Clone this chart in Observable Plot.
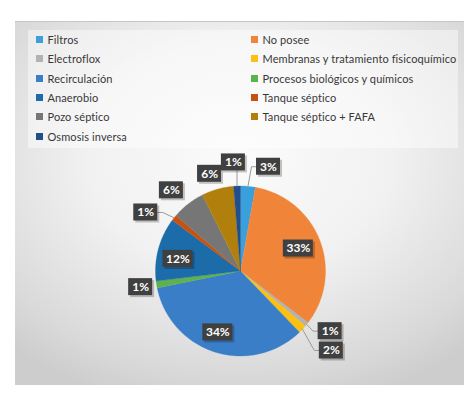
<!DOCTYPE html>
<html>
<head>
<meta charset="utf-8">
<script src="https://cdn.jsdelivr.net/npm/d3@7"></script>
<script src="https://cdn.jsdelivr.net/npm/@observablehq/plot@0.6"></script>
<style>
  html, body { margin: 0; padding: 0; background: #ffffff; }
  #wrap { position: relative; width: 476px; height: 396px; overflow: hidden; font-family: Lato, "Open Sans", sans-serif; }
  #frame { position: absolute; left: 15px; top: 21px; width: 449px; height: 363px;
    background: radial-gradient(ellipse 75% 70% at 50% 38%, #fbfbfb 0%, #f1f1f1 45%, #d9d9d9 85%, #cdcdcd 100%);
    border-top: 1px solid #c6c6c6; }
  #legbox { position: absolute; left: 28px; top: 30px; width: 430px; height: 118px; background: rgba(255,255,255,0.45); }
  #legend { position: absolute; left: 35.5px; top: 29.6px; display: grid; grid-template-columns: 215px 210px; grid-auto-rows: 19.4px; font-size: 11px; letter-spacing: 0.1px; color: #383838; }
  #legend .item { display: flex; align-items: center; white-space: nowrap; }
  #legend .sw { width: 7px; height: 7px; margin-right: 5px; flex: none; }
  #chart { position: absolute; left: 0; top: 0; }
</style>
</head>
<body>
<div id="wrap">
  <div id="frame"></div>
  <div id="legbox"></div>
  <div id="legend"></div>
  <div id="chart"></div>
</div>
<script>
// ---- data ----
const categories = ["Filtros", "No posee", "Electroflox", "Membranas y tratamiento fisicoquímico", "Recirculación", "Procesos biológicos y químicos", "Anaerobio", "Tanque séptico", "Pozo séptico", "Tanque séptico + FAFA", "Osmosis inversa"];
const values = [2.8, 32.6, 0.8, 1.6, 34.0, 1.3, 12.1, 1.1, 6.3, 6.1, 1.3];
const colors = ["#3a9fdd", "#f08539", "#b2b2b2", "#fdc010", "#3a7ec7", "#5eb14f", "#1b6ca8", "#c5530f", "#767676", "#b07f0c", "#204f8c"];

// ---- layout (label placement: radius factor, angle nudge in degrees, leader line) ----
const labelRadius = [1.27, 0.73, 1.27, 1.42, 0.77, 1.19, 0.75, 1.31, 1.25, 1.2, 1.28];
const labelNudge  = [10, 0, -5, -2, 3, 0, -4, -7, -2.6, -2, -1.4];
const labelLeader = [true, false, true, true, false, false, false, true, false, false, true];

const CX = 240, CY = 270.5, R = 85; // pie centre and radius in px
const U = 1 / R; // one pixel in pie units

// legend (HTML, over the frame background)
const leg = document.getElementById("legend");
categories.forEach((c, i) => {
  const d = document.createElement("div");
  d.className = "item";
  d.innerHTML = `<span class="sw" style="background:${colors[i]}"></span><span>${c}</span>`;
  leg.appendChild(d);
});

// pie geometry
const total = d3.sum(values);
const deg = values.map(v => v / total * 360);
const starts = d3.cumsum([0, ...deg]).slice(0, values.length);
const slicePts = [];
categories.forEach((c, i) => {
  const a0 = starts[i], a1 = a0 + deg[i];
  slicePts.push({cat: c, x: 0, y: 0});
  const n = Math.max(2, Math.ceil(deg[i]));
  for (let k = 0; k <= n; k++) {
    const a = (a0 + (a1 - a0) * k / n) * Math.PI / 180;
    slicePts.push({cat: c, x: Math.sin(a), y: Math.cos(a)});
  }
  slicePts.push({cat: c, x: 0, y: 0});
});

const fmt = v => Math.round(v / total * 100) + "%";
const labels = categories.map((c, i) => {
  const mid = starts[i] + deg[i] / 2;
  const a = (mid + labelNudge[i]) * Math.PI / 180;
  const text = fmt(values[i]);
  const hw = (text.length === 2 ? 12 : 15) * U, hh = 8.5 * U;
  const lx = labelRadius[i] * Math.sin(a), ly = labelRadius[i] * Math.cos(a);
  const ma = mid * Math.PI / 180;
  return {cat: c, text, x: lx, y: ly, hw, hh, rim: [Math.sin(ma), Math.cos(ma)], leader: labelLeader[i]};
});

const leaders = [];
labels.forEach(l => {
  if (!l.leader) return;
  const [rx, ry] = l.rim;
  let pts;
  if (Math.abs(rx - l.x) <= l.hw) {
    pts = [[rx, ry], [rx, ry < l.y ? l.y - l.hh : l.y + l.hh]];
  } else if (rx < l.x - l.hw) {
    pts = [[rx, ry], [l.x - l.hw - 5 * U, l.y], [l.x - l.hw, l.y]];
  } else {
    pts = [[rx, ry], [l.x + l.hw + 5 * U, l.y], [l.x + l.hw, l.y]];
  }
  pts.forEach(p => leaders.push({cat: l.cat, x: p[0], y: p[1]}));
});

const chart = Plot.plot({
  width: 476,
  height: 396,
  margin: 0,
  style: {background: "transparent", fontFamily: "Lato, 'Open Sans', sans-serif"},
  x: {domain: [-1, 1], range: [CX - R, CX + R], axis: null},
  y: {domain: [-1, 1], range: [CY + R, CY - R], axis: null},
  color: {domain: categories, range: colors},
  marks: [
    Plot.line(slicePts, {x: "x", y: "y", z: "cat", fill: "cat", stroke: "cat", strokeWidth: 0.3, curve: "linear"}),
    Plot.line(leaders, {x: "x", y: "y", z: "cat", stroke: "#9a9a9a", strokeWidth: 1}),
    Plot.rect(labels, {x1: d => d.x - d.hw, x2: d => d.x + d.hw, y1: d => d.y - d.hh, y2: d => d.y + d.hh, fill: "#000", fillOpacity: 0.22, dx: 2, dy: 2}),
    Plot.rect(labels, {x1: d => d.x - d.hw, x2: d => d.x + d.hw, y1: d => d.y - d.hh, y2: d => d.y + d.hh, fill: "#404040"}),
    Plot.text(labels, {x: "x", y: "y", text: "text", fill: "white", fontSize: 12, fontWeight: "bold"})
  ]
});
document.getElementById("chart").appendChild(chart);
</script>
</body>
</html>
